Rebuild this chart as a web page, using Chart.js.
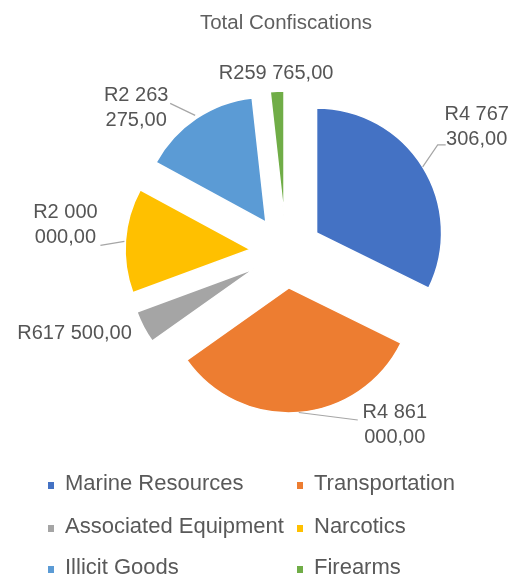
<!DOCTYPE html>
<html><head><meta charset="utf-8">
<script src="https://cdn.jsdelivr.net/npm/chart.js@4"></script>
<style>html,body{margin:0;padding:0;background:#fff;} #wrap{position:relative;width:511px;height:578px;}</style>
</head><body><div id="wrap"><canvas id="c"></canvas></div>
<script>
// ---- data ----
const chartTitle = 'Total Confiscations';
const categories = ['Marine Resources', 'Transportation', 'Associated Equipment', 'Narcotics', 'Illicit Goods', 'Firearms'];
const values = [4767306.00, 4861000.00, 617500.00, 2000000.00, 2263275.00, 259765.00];

// ---- styles ----
const colors = ['#4472C4', '#ED7D31', '#A5A5A5', '#FFC000', '#5B9BD5', '#70AD47'];
const EXPLODE = 36, RADIUS = 125;
const FONT = '"Liberation Sans", Arial, sans-serif';
// label placement relative to the outer mid-point of each (exploded) slice
const labelLayout = [
  {dx: 54, dy: -40, leader: [[0, 0], [15, -22], [23, -22]]},
  {dx: 96, dy: 12.5, leader: [[0, 0], [59, 7.5]]},
  {dx: -69, dy: 6, leader: null},
  {dx: -60, dy: -15, leader: [[-1, 1], [-25, 5]]},
  {dx: -60, dy: -10, leader: [[-1, -3], [-26, -15]]},
  {dx: -1, dy: -18, leader: null}
];
const legendCols = [48, 297];
const legendRows = [484, 527, 568];

function fmt(v) {
  const parts = v.toFixed(2).split('.');
  return 'R' + parts[0].replace(/\B(?=(\d{3})+(?!\d))/g, ' ') + ',' + parts[1];
}
function wrapLabel(s) {
  const sp = s.split(' ');
  if (sp.length > 2) {
    const i = s.lastIndexOf(' ');
    return [s.slice(0, i), s.slice(i + 1)];
  }
  return [s];
}

const explodePlugin = {
  id: 'explode',
  beforeDatasetDraw(chart, args) {
    const ctx = chart.ctx;
    args.meta.data.forEach(el => {
      const mid = (el.startAngle + el.endAngle) / 2;
      ctx.save();
      ctx.translate(Math.cos(mid) * EXPLODE, Math.sin(mid) * EXPLODE);
      el.draw(ctx);
      ctx.restore();
    });
    return false;
  }
};

const textPlugin = {
  id: 'texts',
  afterDraw(chart) {
    const ctx = chart.ctx;
    const meta = chart.getDatasetMeta(0);
    ctx.save();
    // title
    ctx.fillStyle = '#5f5f5f';
    ctx.font = '20.5px ' + FONT;
    ctx.textAlign = 'center';
    ctx.textBaseline = 'middle';
    ctx.fillText(chartTitle, 286, 23);
    // data labels
    meta.data.forEach((el, i) => {
      const mid = (el.startAngle + el.endAngle) / 2;
      const d = EXPLODE + el.outerRadius;
      const ax = el.x + Math.cos(mid) * d, ay = el.y + Math.sin(mid) * d;
      const L = labelLayout[i];
      if (L.leader) {
        ctx.strokeStyle = '#A6A6A6';
        ctx.lineWidth = 1.2;
        ctx.beginPath();
        L.leader.forEach((p, k) => {
          if (k === 0) ctx.moveTo(ax + p[0], ay + p[1]); else ctx.lineTo(ax + p[0], ay + p[1]);
        });
        ctx.stroke();
      }
      const lines = wrapLabel(fmt(values[i]));
      const lh = 25;
      ctx.fillStyle = '#555555';
      ctx.font = '20px ' + FONT;
      ctx.textAlign = 'center';
      ctx.textBaseline = 'middle';
      const cx = ax + L.dx, cy = ay + L.dy;
      lines.forEach((t, k) => {
        ctx.fillText(t, cx, cy + (k - (lines.length - 1) / 2) * lh);
      });
    });
    // legend
    ctx.font = '22px ' + FONT;
    ctx.textAlign = 'left';
    ctx.textBaseline = 'middle';
    categories.forEach((c, i) => {
      const x = legendCols[i % 2], y = legendRows[Math.floor(i / 2)];
      ctx.fillStyle = colors[i];
      ctx.fillRect(x, y - 2, 6, 7);
      ctx.fillStyle = '#595959';
      ctx.fillText(c, x + 17, y);
    });
    ctx.restore();
  }
};

new Chart(document.getElementById('c'), {
  type: 'pie',
  data: {
    labels: categories,
    datasets: [{
      data: values,
      backgroundColor: colors,
      borderColor: '#ffffff',
      borderWidth: 1.5,
      radius: RADIUS
    }]
  },
  options: {
    responsive: true,
    maintainAspectRatio: false,
    animation: false,
    events: [],
    layout: {padding: {left: 86, right: 25, top: 102, bottom: 176}},
    plugins: {legend: {display: false}, title: {display: false}, tooltip: {enabled: false}}
  },
  plugins: [explodePlugin, textPlugin]
});
</script>
</body></html>
